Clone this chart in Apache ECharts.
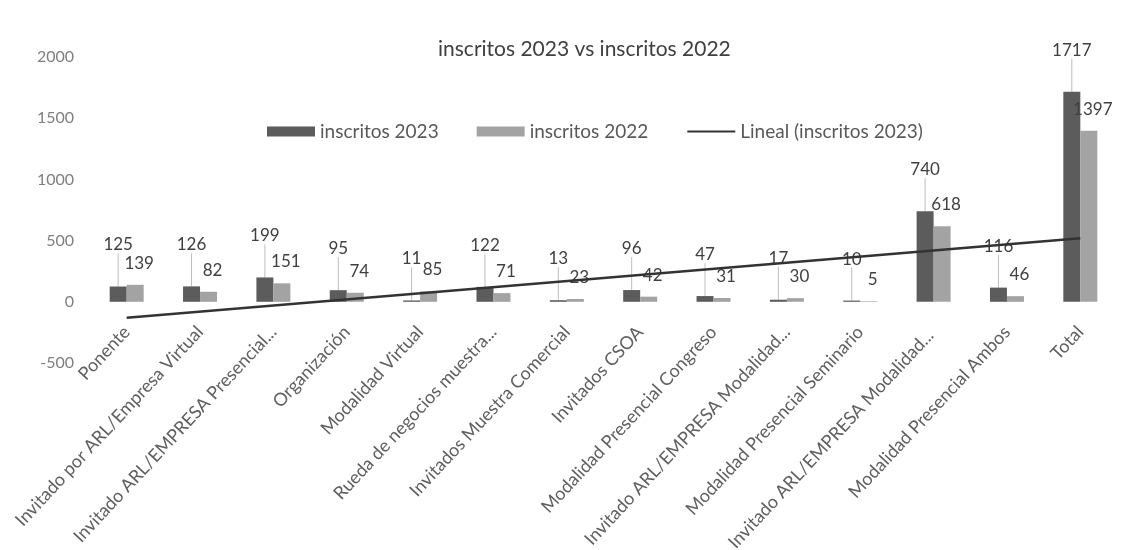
<!DOCTYPE html>
<html><head><meta charset="utf-8">
<script src="https://cdn.jsdelivr.net/npm/echarts@6/dist/echarts.min.js"></script>
<style>html,body{margin:0;padding:0;background:#fff}#c{width:1143px;height:550px}</style>
</head><body><div id="c"></div>
<script>
const categories = ["Ponente","Invitado por ARL/Empresa Virtual","Invitado ARL/EMPRESA Presencial...","Organización","Modalidad Virtual","Rueda de negocios muestra...","Invitados Muestra Comercial","Invitados CSOA","Modalidad Presencial Congreso","Invitado ARL/EMPRESA Modalidad...","Modalidad Presencial Seminario","Invitado ARL/EMPRESA Modalidad... ","Modalidad Presencial Ambos","Total"];
const inscritos2023 = [125,126,199,95,11,122,13,96,47,17,10,740,116,1717];
const inscritos2022 = [139,82,151,74,85,71,23,42,31,30,5,618,46,1397];
// linear trendline end values (first and last category)
const trendEnds = [-130, 520];
const yTicks = {min:-500, max:2000, interval:500};

const trendData = categories.map((c,i)=> i===0 ? trendEnds[0] : (i===categories.length-1 ? trendEnds[1] : null));
const FONT = 'Lato';
const chart = echarts.init(document.getElementById('c'));
chart.setOption({
  backgroundColor:'#fff',
  animation:false,
  textStyle:{fontFamily:FONT},
  title:{text:'inscritos 2023 vs inscritos 2022',left:433,top:34,
    textStyle:{fontFamily:FONT,fontSize:21,fontWeight:'normal',color:'#404040'}},
  legend:{top:117,left:262,itemWidth:48,itemHeight:10,itemGap:38,
    textStyle:{fontFamily:FONT,fontSize:19,color:'#595959'},
    data:[{name:'inscritos 2023',icon:'rect'},{name:'inscritos 2022',icon:'rect'},
      {name:'Lineal (inscritos 2023)',itemStyle:{color:'rgba(0,0,0,0)',borderColor:'rgba(0,0,0,0)',borderWidth:0,opacity:0}}]},
  grid:{left:90,right:26,top:57,bottom:187,containLabel:false,outerBoundsMode:'none'},
  xAxis:[{type:'category',data:categories,offset:-61,
    axisLine:{show:false},axisTick:{show:false},
    axisLabel:{interval:0,rotate:47,margin:27,fontFamily:FONT,fontSize:18,color:'#606060'}}],
  yAxis:{type:'value',min:yTicks.min,max:yTicks.max,interval:yTicks.interval,
    axisLine:{show:false},axisTick:{show:false},splitLine:{show:false},
    axisLabel:{margin:16,fontFamily:FONT,fontSize:16,color:'#7f7f7f',formatter:v=>String(v)}},
  series:[
    {name:'inscritos 2023',type:'bar',data:inscritos2023,barWidth:17,barGap:'0%',
      itemStyle:{color:'#5c5c5c'},
      label:{show:true,position:'top',fontFamily:FONT,fontSize:17,color:'#404040'},
      labelLayout:{dy:-28},
      labelLine:{show:true,lineStyle:{color:'#bdbdbd',width:1}}},
    {name:'inscritos 2022',type:'bar',data:inscritos2022,barWidth:17,
      itemStyle:{color:'#a3a3a3'},
      label:{show:true,position:'top',fontFamily:FONT,fontSize:17,color:'#404040'},
      labelLayout:{dy:-8,dx:4}},
    {name:'Lineal (inscritos 2023)',type:'line',data:trendData,connectNulls:true,
      symbol:'none',z:5,lineStyle:{color:'#333333',width:2.5},itemStyle:{color:'#333333'}}
  ]
});
</script></body></html>
